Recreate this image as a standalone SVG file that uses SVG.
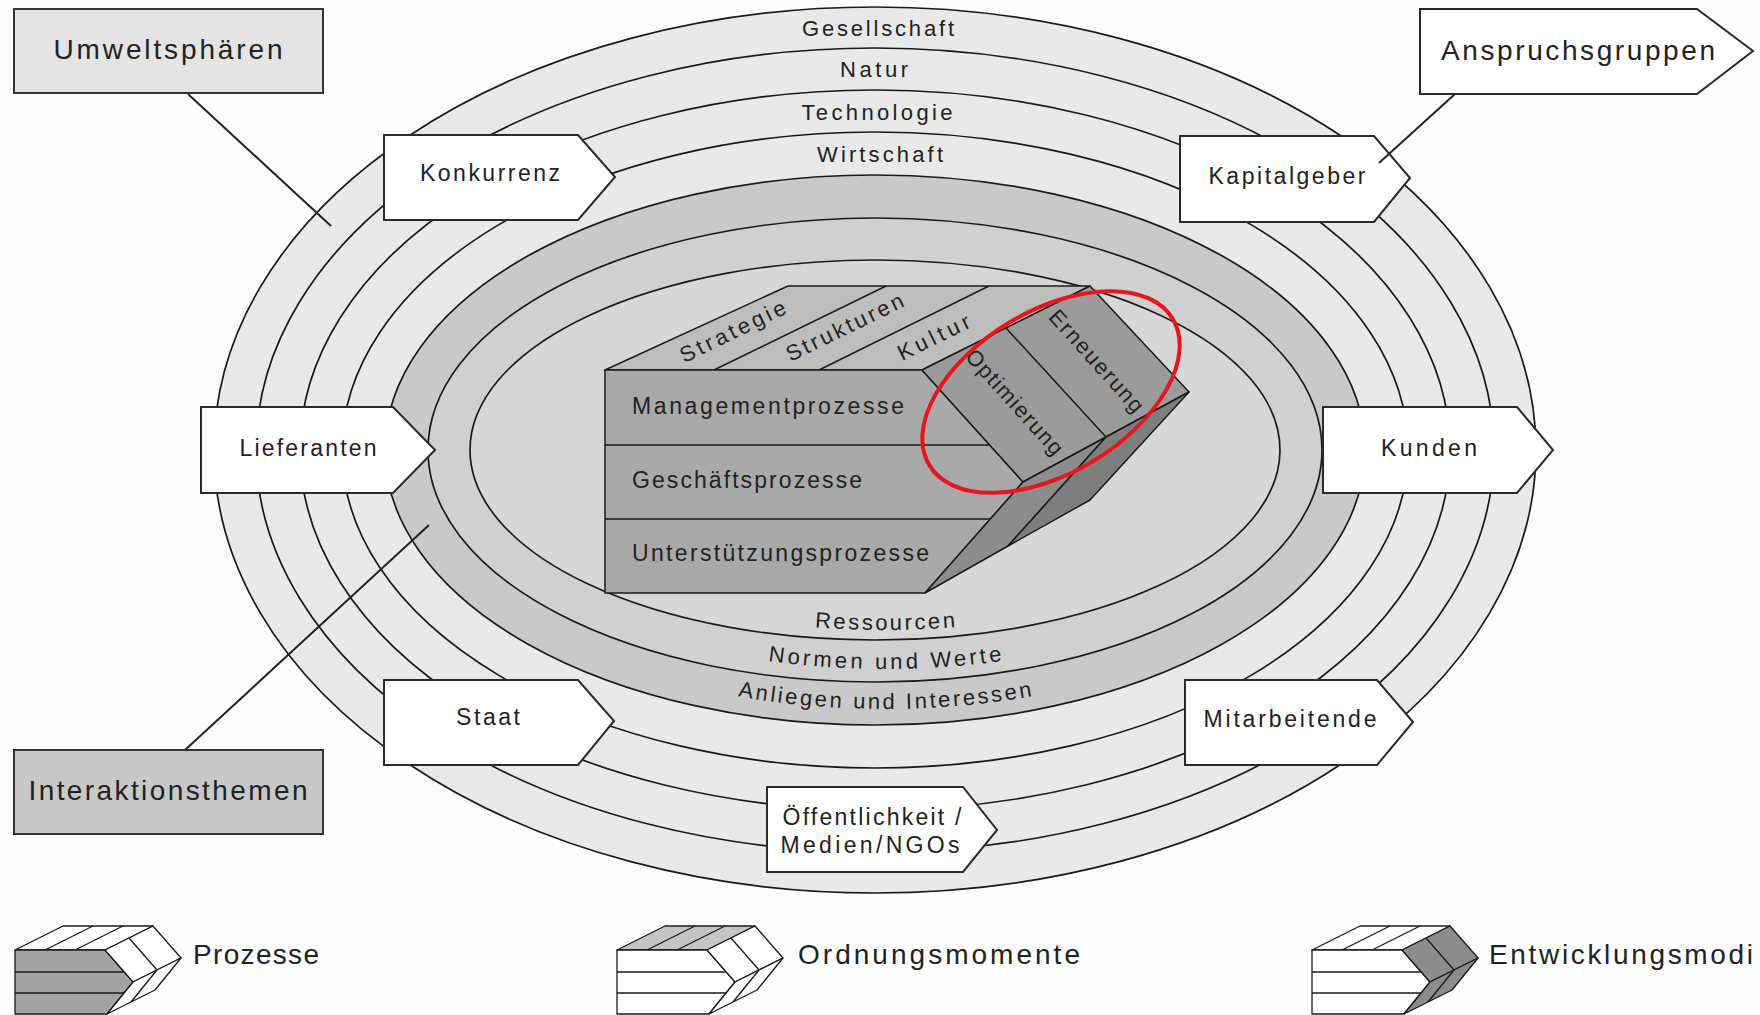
<svg xmlns="http://www.w3.org/2000/svg" width="1760" height="1015" viewBox="0 0 1760 1015">
<defs>
<style>
text{font-family:"Liberation Sans",Arial,sans-serif;fill:#222}
.ring{stroke:#1a1a1a;stroke-width:1.7}
.band{fill:#e9e9e9}
.node{fill:#fff;stroke:#2a2a2a;stroke-width:2}
.n{font-size:23px;text-anchor:middle}
.big{font-size:28px;text-anchor:middle}
.rl{font-size:22px;text-anchor:middle}
.face{stroke:#1a1a1a;stroke-width:1.5;stroke-linejoin:round}
.ck{font-size:23px}
.cl{font-size:22px;text-anchor:middle}
.ic{stroke:#1a1a1a;stroke-width:1.3;stroke-linejoin:round}
.lg{font-size:28px}
.lead{stroke:#222;stroke-width:2;fill:none}
</style>
<path id="pR" d="M 489 450 A 396 180 0 0 0 1281 450"/>
<path id="pN" d="M 448 450 A 437 219 0 0 0 1322 450"/>
<path id="pA" d="M 407 450 A 478 259 0 0 0 1363 450"/>
</defs>
<rect width="1760" height="1015" fill="#fdfdfd"/>

<g id="spheres">
<ellipse class="ring band" cx="875" cy="450" rx="661" ry="443"/>
<ellipse class="ring band" cx="875" cy="450" rx="619" ry="402"/>
<ellipse class="ring band" cx="875" cy="450" rx="575" ry="360"/>
<ellipse class="ring band" cx="875" cy="450" rx="533" ry="318"/>
<ellipse class="ring" fill="#c9c9c9" cx="875" cy="450" rx="490" ry="275"/>
<ellipse class="ring" fill="#d0d0d0" cx="875" cy="450" rx="447" ry="232"/>
<ellipse class="ring" fill="#d7d7d7" cx="875" cy="450" rx="405" ry="190"/>
<text class="rl" x="878" y="36" textLength="152">Gesellschaft</text>
<text class="rl" x="874" y="77" textLength="68">Natur</text>
<text class="rl" x="877" y="120" textLength="151">Technologie</text>
<text class="rl" x="880" y="162" textLength="126">Wirtschaft</text>
<text class="rl"><textPath href="#pR" startOffset="50%" textLength="141">Ressourcen</textPath></text>
<text class="rl"><textPath href="#pN" startOffset="50%" textLength="235">Normen und Werte</textPath></text>
<text class="rl"><textPath href="#pA" startOffset="50%" textLength="296">Anliegen und Interessen</textPath></text>
</g>

<g id="model">
<polygon class="face" fill="#bdbdbd" points="605,370 922,370 1090,286 788,286"/>
<path class="face" fill="none" d="M714,370 L886,286 M819,370 L989,286"/>
<polygon class="face" fill="#a9a9a9" points="605,370 922,370 1023,482 925,593 605,593"/>
<path class="face" fill="none" d="M605,445 H990 M605,519 H990"/>
<polygon class="face" fill="#9b9b9b" points="922,370 1090,286 1189,392 1023,482"/>
<path class="face" fill="none" d="M1006,328 L1106,437"/>
<polygon class="face" fill="#8c8c8c" points="1023,482 1106,437 1008,546 925,593"/>
<polygon class="face" fill="#7e7e7e" points="1106,437 1189,392 1090,500 1008,546"/>
<text class="cl" transform="translate(736,338) rotate(-26)" textLength="115">Strategie</text>
<text class="cl" transform="translate(848,334) rotate(-26)" textLength="128">Strukturen</text>
<text class="cl" transform="translate(937,344) rotate(-26)" textLength="78">Kultur</text>
<text class="cl" transform="translate(1009,407) rotate(48)" textLength="134">Optimierung</text>
<text class="cl" transform="translate(1091,366) rotate(48)" textLength="130">Erneuerung</text>
<text class="ck" x="632" y="414" textLength="272">Managementprozesse</text>
<text class="ck" x="632" y="488" textLength="230">Geschäftsprozesse</text>
<text class="ck" x="632" y="561" textLength="297">Unterstützungsprozesse</text>
<ellipse cx="1051" cy="392" rx="142" ry="81" transform="rotate(-31 1051 392)" fill="none" stroke="#e6161c" stroke-width="4"/>
</g>

<g id="umweltsphaeren">
<rect x="14" y="9" width="309" height="84" fill="#e4e4e4" stroke="#333" stroke-width="2"/>
<text class="big" x="168" y="59" textLength="229">Umweltsphären</text>
</g>
<g id="anspruchsgruppen">
<path class="node" d="M1420,9 H1697 L1753,51 L1697,94 H1420 Z"/>
<text class="big" x="1578" y="60" textLength="274">Anspruchsgruppen</text>
</g>
<g id="interaktionsthemen">
<rect x="14" y="750" width="309" height="84" fill="#c8c8c8" stroke="#333" stroke-width="2"/>
<text class="big" x="168" y="800" textLength="279">Interaktionsthemen</text>
</g>

<g id="konkurrenz">
<path class="node" d="M384,135 H578 L615,177 L578,220 H384 Z"/>
<text class="n" x="490" y="181" textLength="140">Konkurrenz</text>
</g>
<g id="kapitalgeber">
<path class="node" d="M1180,136 H1374 L1410,178 L1374,222 H1180 Z"/>
<text class="n" x="1287" y="184" textLength="157">Kapitalgeber</text>
</g>
<g id="lieferanten">
<path class="node" d="M201,407 H393 L435,450 L393,493 H201 Z"/>
<text class="n" x="308" y="456" textLength="137">Lieferanten</text>
</g>
<g id="kunden">
<path class="node" d="M1323,407 H1517 L1553,450 L1517,493 H1323 Z"/>
<text class="n" x="1429" y="456" textLength="96">Kunden</text>
</g>
<g id="staat">
<path class="node" d="M384,680 H578 L614,721 L578,765 H384 Z"/>
<text class="n" x="488" y="725" textLength="64">Staat</text>
</g>
<g id="mitarbeitende">
<path class="node" d="M1185,680 H1377 L1413,722 L1377,765 H1185 Z"/>
<text class="n" x="1290" y="727" textLength="173">Mitarbeitende</text>
</g>
<g id="oeffentlichkeit">
<path class="node" d="M767,787 H963 L997,830 L963,872 H767 Z"/>
<text class="n" x="872" y="825" textLength="179">Öffentlichkeit /</text>
<text class="n" x="870" y="853" textLength="179">Medien/NGOs</text>
</g>

<g id="connectors">
<line class="lead" x1="188" y1="94" x2="331" y2="226"/>
<line class="lead" x1="1455" y1="94" x2="1379" y2="163"/>
<line class="lead" x1="185" y1="750" x2="429" y2="525"/>
</g>

<g id="legend-prozesse">
<g transform="translate(15,950)">
<polygon class="ic" fill="#fff" points="0,0 90,0 138,-24 48,-24"/>
<path class="ic" fill="none" d="M30,0 L78,-24 M60,0 L108,-24"/>
<polygon class="ic" fill="#a3a3a3" points="0,0 90,0 118,32 92,64 0,64"/>
<path class="ic" fill="none" d="M0,22 H109 M0,43 H109"/>
<polygon class="ic" fill="#fff" points="90,0 138,-24 166,8 118,32"/>
<path class="ic" fill="none" d="M114,-12 L142,20"/>
<polygon class="ic" fill="#fff" points="118,32 166,8 140,40 92,64"/>
<path class="ic" fill="none" d="M142,20 L116,52"/>
</g>
<text class="lg" x="193" y="964" textLength="126">Prozesse</text>
</g>
<g id="legend-ordnungsmomente">
<g transform="translate(617,950)">
<polygon class="ic" fill="#c4c4c4" points="0,0 90,0 138,-24 48,-24"/>
<path class="ic" fill="none" d="M30,0 L78,-24 M60,0 L108,-24"/>
<polygon class="ic" fill="#fff" points="0,0 90,0 118,32 92,64 0,64"/>
<path class="ic" fill="none" d="M0,22 H109 M0,43 H109"/>
<polygon class="ic" fill="#fff" points="90,0 138,-24 166,8 118,32"/>
<path class="ic" fill="none" d="M114,-12 L142,20"/>
<polygon class="ic" fill="#fff" points="118,32 166,8 140,40 92,64"/>
<path class="ic" fill="none" d="M142,20 L116,52"/>
</g>
<text class="lg" x="798" y="964" textLength="282">Ordnungsmomente</text>
</g>
<g id="legend-entwicklungsmodi">
<g transform="translate(1312,950)">
<polygon class="ic" fill="#fff" points="0,0 90,0 138,-24 48,-24"/>
<path class="ic" fill="none" d="M30,0 L78,-24 M60,0 L108,-24"/>
<polygon class="ic" fill="#fff" points="0,0 90,0 118,32 92,64 0,64"/>
<path class="ic" fill="none" d="M0,22 H109 M0,43 H109"/>
<polygon class="ic" fill="#8c8c8c" points="90,0 138,-24 166,8 118,32"/>
<path class="ic" fill="none" d="M114,-12 L142,20"/>
<polygon class="ic" fill="#8c8c8c" points="118,32 166,8 140,40 92,64"/>
<path class="ic" fill="none" d="M142,20 L116,52"/>
</g>
<text class="lg" x="1489" y="964" textLength="264">Entwicklungsmodi</text>
</g>
</svg>
